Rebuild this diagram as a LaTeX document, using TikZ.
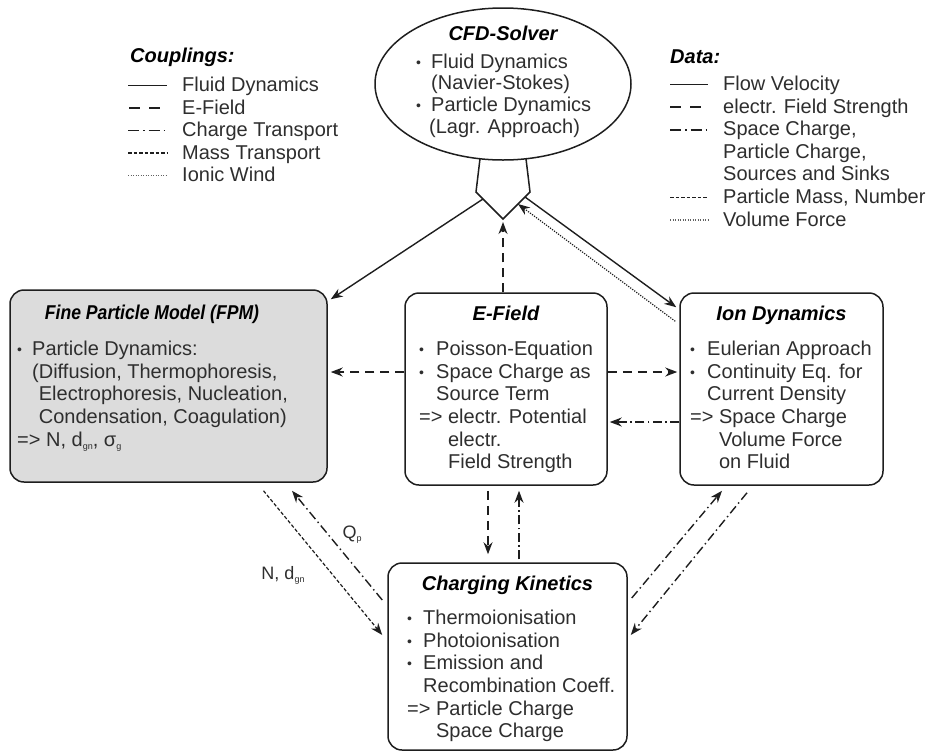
\documentclass[tikz,border=0pt]{standalone}
\usepackage{fontspec}
\setmainfont{Liberation Sans}
\usetikzlibrary{arrows.meta,shapes.geometric,calc}
\definecolor{linec}{HTML}{1E1E1E}
\definecolor{textc}{HTML}{2E2E2E}
\definecolor{fpmfill}{HTML}{DCDCDC}
\newcommand{\bul}[1][15pt]{\makebox[#1][l]{\raisebox{1pt}{\fontsize{14}{14}\selectfont •}}}
\newcommand{\subt}[1]{\raisebox{-3pt}{\fontsize{9}{9}\selectfont #1}}
\begin{document}
\begin{tikzpicture}[x=1pt,y=-1pt,
  outl/.style={draw=linec, line width=1.5pt},
  box/.style={outl, rounded corners=14pt, inner sep=0pt},
  cfdshape/.style={outl, ellipse, inner sep=0pt, minimum width=256pt, minimum height=152pt},
  conn/.style={draw=linec, line width=1.4pt},
  tip/.style={-{Stealth[length=12pt,width=9pt]}},
  fluid/.style={conn},
  efield/.style={conn, dash pattern=on 9pt off 6pt},
  charge/.style={conn, dash pattern=on 9pt off 3.5pt on 1.5pt off 3.5pt},
  mass/.style={conn, line width=1.2pt, dash pattern=on 3.5pt off 2pt},
  wind/.style={conn, line width=1.2pt, dash pattern=on 1.2pt off 1.3pt},
  title/.style={font=\fontsize{20}{24}\selectfont\bfseries\itshape, text=black, inner sep=0pt, anchor=base},
  body/.style={font=\fontsize{20}{22.6}\selectfont, text=textc, align=left, inner sep=0pt, anchor=north west},
  leg/.style={font=\fontsize{20}{22.6}\selectfont, text=textc, inner sep=0pt, anchor=base west},
  lbl/.style={font=\fontsize{18}{20}\selectfont, text=textc, inner sep=0pt, anchor=base},
]
\useasboundingbox (0,0) rectangle (931,753);

% ---------- CFD solver ----------
\node[cfdshape] (cfd) at (503,84) {};
\node[title] (cfdt) at (503,40) {CFD-Solver};
\node[body, font=\fontsize{20}{21.8}\selectfont] (cfdb) at (416,53.5)
  {\bul Fluid Dynamics\\\hspace*{15pt}(Navier-Stokes)\\\bul Particle Dynamics\\\hspace*{13pt}(Lagr. Approach)};
\coordinate (pA) at (480,158.7);
\coordinate (pB) at (476,192);
\coordinate (pC) at (503,219);
\coordinate (pD) at (530,192);
\coordinate (pE) at (526,158.7);
\draw[outl, line join=miter] (pA) -- (pB) -- (pC) -- (pD) -- (pE);
\coordinate (cL) at (483,199);
\coordinate (cR) at (525,197);
\coordinate (cR2) at (518,204);

% ---------- Legends ----------
\node[title, anchor=base west] (cpl) at (130,62) {Couplings:};
\node[leg] (l1) at (182,91.5) {Fluid Dynamics};
\node[leg] (l2) at (182,114) {E-Field};
\node[leg] (l3) at (182,136.5) {Charge Transport};
\node[leg] (l4) at (182,159) {Mass Transport};
\node[leg] (l5) at (182,181.5) {Ionic Wind};
\draw[fluid, line width=1.6pt] ([xshift=-54pt,yshift=6pt]l1.base west) -- ++(39,0);
\draw[efield, line width=1.6pt, dash pattern=on 11pt off 9pt] ([xshift=-53pt,yshift=6pt]l2.base west) -- ++(38,0);
\draw[charge, line width=1.6pt, dash pattern=on 11pt off 4pt on 1.5pt off 4pt] ([xshift=-54pt,yshift=6pt]l3.base west) -- ++(39,0);
\draw[mass, line width=1.4pt] ([xshift=-54pt,yshift=6pt]l4.base west) -- ++(39,0);
\draw[wind, line width=1.4pt, draw=linec!70] ([xshift=-54pt,yshift=6pt]l5.base west) -- ++(39,0);

\node[title, anchor=base west] (dat) at (670,63) {Data:};
\node[leg] (r1) at (723,90.5) {Flow Velocity};
\node[leg] (r2) at (723,113.1) {electr. Field Strength};
\node[leg] (r3) at (723,135.7) {Space Charge,};
\node[leg] (r3b) at (723,158.3) {Particle Charge,};
\node[leg] (r3c) at (723,180.9) {Sources and Sinks};
\node[leg] (r4) at (723,203.5) {Particle Mass, Number};
\node[leg] (r5) at (723,226.1) {Volume Force};
\draw[fluid, line width=1.6pt] ([xshift=-53pt,yshift=6pt]r1.base west) -- ++(38,0);
\draw[efield, line width=1.6pt, dash pattern=on 11pt off 9pt] ([xshift=-53pt,yshift=6pt]r2.base west) -- ++(38,0);
\draw[charge, line width=1.6pt, dash pattern=on 11pt off 4pt on 1.5pt off 4pt] ([xshift=-53pt,yshift=6pt]r3.base west) -- ++(38,0);
\draw[mass, line width=1.4pt] ([xshift=-53pt,yshift=6pt]r4.base west) -- ++(38,0);
\draw[wind, line width=1.4pt, draw=linec!70] ([xshift=-53pt,yshift=6pt]r5.base west) -- ++(38,0);

% ---------- Boxes ----------
\node[box, fill=fpmfill, minimum width=317pt, minimum height=192pt] (fpm) at (168.5,386) {};
\node[box, minimum width=202pt, minimum height=192pt] (ef) at (506,389) {};
\node[box, minimum width=203pt, minimum height=192pt] (ion) at (781.5,389) {};
\node[box, minimum width=239pt, minimum height=187pt] (ck) at (507.5,656.5) {};

\node[title] (fpmt) at (152,319) {\scalebox{0.88}[1]{Fine Particle Model (FPM)}};
\node[body] (fpmb) at (17,341)
  {\bul Particle Dynamics:\\
   \hspace*{15pt}(Diffusion, Thermophoresis,\\
   \hspace*{15pt}\phantom{(}Electrophoresis, Nucleation,\\
   \hspace*{15pt}\phantom{(}Condensation, Coagulation)\\
   => N, d\subt{gn}, σ\subt{g}};

\node[title] (eft) at (506,320) {E-Field};
\node[body] (efb) at (419,341)
  {\bul[17pt]Poisson-Equation\\
   \bul[17pt]Space Charge as\\
   \hspace*{17pt}Source Term\\
   => electr. Potential\\
   \phantom{=> }electr.\\
   \phantom{=> }Field Strength};

\node[title] (iont) at (781.5,320) {Ion Dynamics};
\node[body] (ionb) at (690,341)
  {\bul[17pt]Eulerian Approach\\
   \bul[17pt]Continuity Eq. for\\
   \hspace*{17pt}Current Density\\
   => Space Charge\\
   \phantom{=> }Volume Force\\
   \phantom{=> }on Fluid};

\node[title] (ckt) at (507.5,590) {Charging Kinetics};
\node[body] (ckb) at (407,610)
  {\bul[16pt]Thermoionisation\\
   \bul[16pt]Photoionisation\\
   \bul[16pt]Emission and\\
   \hspace*{16pt}Recombination Coeff.\\
   => Particle Charge\\
   \phantom{=> }Space Charge};

% ---------- Connectors ----------
\draw[fluid,tip] (cL) -- ([xshift=3pt,yshift=-10pt]fpm.north east);
\draw[fluid,tip] (cR) -- ([xshift=-3pt,yshift=-15pt]ion.north west);
\draw[wind,tip] ([xshift=-4pt,yshift=-29pt]ion.north west) -- (cR2);
\draw[efield,tip] (ef.north -| pC) -- ([yshift=-3pt]pC);

\draw[efield,tip] ([yshift=17pt]ef.west) -- ([xshift=3pt,yshift=14pt]fpm.east);
\draw[efield,tip] ([yshift=17pt]ef.east) -- ([xshift=-2pt,yshift=17pt]ion.west);
\draw[charge,tip] ([yshift=-33pt]ion.west) -- ([xshift=2pt,yshift=-33pt]ef.east);

\draw[efield,tip] ([xshift=-18pt,yshift=-5pt]ef.south) -- ([xshift=-19.5pt,yshift=8pt]ck.north);
\draw[charge,tip] ([xshift=11.5pt,yshift=3pt]ck.north) -- ([xshift=13pt,yshift=-5pt]ef.south);

\draw[mass,tip] ([xshift=95pt,yshift=-8pt]fpm.south) -- ([xshift=-5pt,yshift=21.5pt]ck.west);
\draw[charge,tip] ([xshift=-5pt,yshift=56.5pt]ck.west) -- ([xshift=123.5pt,yshift=-8pt]fpm.south);
\node[lbl] (qp) at (352,538) {Q\subt{p}};
\node[lbl] (ndg) at (283,579) {N, d\subt{gn}};

\draw[charge,tip] ([xshift=4pt,yshift=58.5pt]ck.east) -- ([xshift=-59.5pt,yshift=-5pt]ion.south);
\draw[charge,tip] ([xshift=-34.5pt,yshift=-7pt]ion.south) -- ([xshift=3pt,yshift=21.5pt]ck.east);
\end{tikzpicture}
\end{document}
